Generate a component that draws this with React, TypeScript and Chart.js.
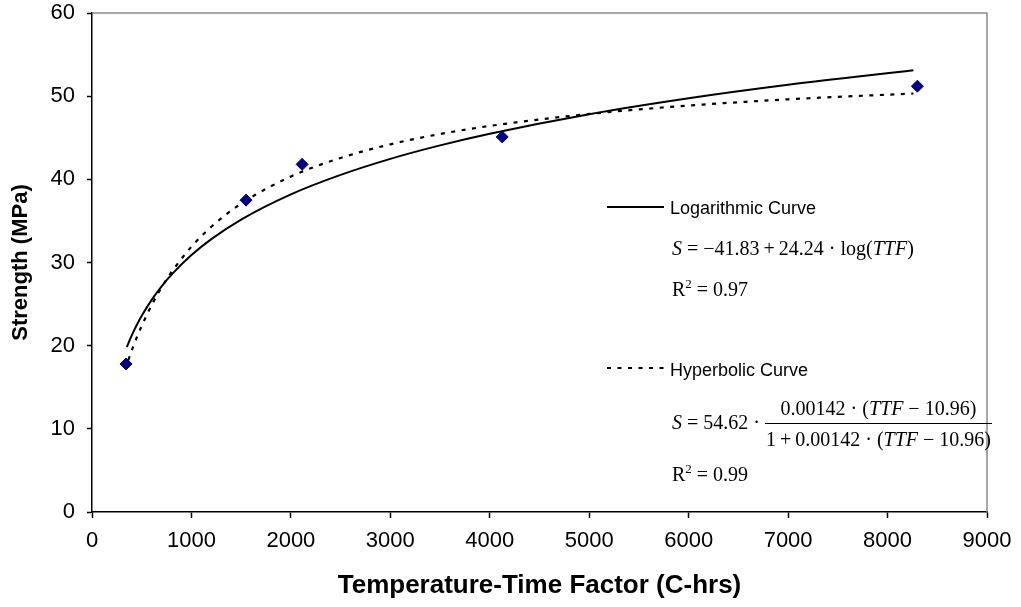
import React, { useEffect, useRef } from "react";
import { Chart, registerables } from "chart.js";

Chart.register(...registerables);

// ---------- data ----------
const xMin = 0;
const xMax = 9000;
const xStep = 1000;
const yMin = 0;
const yMax = 60;
const yStep = 10;

const measuredTTF = [342, 1549, 2113, 4125, 8300];
const measuredStrength = [17.8, 37.5, 41.8, 45.1, 51.2];

const logCurveTTF = [350, 400, 450, 500, 600, 700, 800, 1000, 1200, 1500, 2000, 2500, 3000, 3500, 4000, 5000, 6000, 7000, 8260];
const logCurveStrength = [19.84, 21.24, 22.48, 23.59, 25.51, 27.14, 28.54, 30.89, 32.81, 35.16, 38.19, 40.53, 42.46, 44.08, 45.48, 47.83, 49.75, 51.37, 53.12];

const hypCurveTTF = [365, 400, 450, 500, 600, 700, 800, 1000, 1200, 1500, 2000, 2500, 3000, 3500, 4000, 5000, 6000, 7000, 8260];
const hypCurveStrength = [18.27, 19.44, 20.98, 22.38, 24.88, 27.01, 28.86, 31.9, 34.3, 37.08, 40.34, 42.57, 44.21, 45.45, 46.42, 47.86, 48.87, 49.62, 50.32];

const xAxisTitle = "Temperature-Time Factor (C-hrs)";
const yAxisTitle = "Strength (MPa)";
const logLegend = "Logarithmic Curve";
const hypLegend = "Hyperbolic Curve";
const logR2 = "0.97";
const hypR2 = "0.99";

// ---------- helpers ----------
const SANS = '"Liberation Sans", Arial, sans-serif';
const SERIF = '"Liberation Serif", "Times New Roman", serif';
const MATH = 20;

type Run = { t: string; it?: boolean; sup?: boolean };

function setRunFont(ctx: CanvasRenderingContext2D, r: Run) {
  const size = r.sup ? Math.round(MATH * 0.65) : MATH;
  ctx.font = `${r.it ? "italic " : ""}${size}px ${SERIF}`;
}
function runsWidth(ctx: CanvasRenderingContext2D, runs: Run[]) {
  let w = 0;
  for (const r of runs) {
    setRunFont(ctx, r);
    w += ctx.measureText(r.t).width;
  }
  return w;
}
function drawRuns(ctx: CanvasRenderingContext2D, runs: Run[], x: number, y: number) {
  ctx.textBaseline = "alphabetic";
  ctx.textAlign = "left";
  for (const r of runs) {
    setRunFont(ctx, r);
    ctx.fillText(r.t, x, r.sup ? y - MATH * 0.42 : y);
    x += ctx.measureText(r.t).width;
  }
  return x;
}

const annotationPlugin = {
  id: "annotations",
  beforeDatasetsDraw(chart: any) {
    const { ctx, chartArea: a } = chart;
    ctx.save();
    ctx.strokeStyle = "#8c8c8c";
    ctx.lineWidth = 1.5;
    ctx.beginPath();
    ctx.moveTo(a.left, a.top);
    ctx.lineTo(a.right, a.top);
    ctx.lineTo(a.right, a.bottom);
    ctx.stroke();
    ctx.restore();
  },
  afterDraw(chart: any) {
    const ctx: CanvasRenderingContext2D = chart.ctx;
    ctx.save();
    ctx.fillStyle = "#000";
    ctx.strokeStyle = "#000";

    // logarithmic legend
    ctx.lineWidth = 2;
    ctx.setLineDash([]);
    ctx.beginPath();
    ctx.moveTo(607, 207);
    ctx.lineTo(664, 207);
    ctx.stroke();
    ctx.font = `18px ${SANS}`;
    ctx.textBaseline = "middle";
    ctx.textAlign = "left";
    ctx.fillText(logLegend, 670, 209);

    drawRuns(
      ctx,
      [{ t: "S", it: true }, { t: " = \u221241.83\u2009+\u200924.24 \u00b7 log(" }, { t: "TTF", it: true }, { t: ")" }],
      672,
      255
    );
    drawRuns(ctx, [{ t: "R" }, { t: "2", sup: true }, { t: " = " + logR2 }], 672, 296);

    // hyperbolic legend
    ctx.lineWidth = 2.2;
    ctx.setLineDash([4, 6.5]);
    ctx.beginPath();
    ctx.moveTo(607, 368);
    ctx.lineTo(664, 368);
    ctx.stroke();
    ctx.setLineDash([]);
    ctx.font = `18px ${SANS}`;
    ctx.textBaseline = "middle";
    ctx.fillText(hypLegend, 670, 371);

    const fx = drawRuns(ctx, [{ t: "S", it: true }, { t: " = 54.62 \u00b7 " }], 672, 429);
    const num: Run[] = [{ t: "0.00142 \u00b7 (" }, { t: "TTF", it: true }, { t: " \u2212 10.96)" }];
    const den: Run[] = [{ t: "1\u2009+\u20090.00142 \u00b7 (" }, { t: "TTF", it: true }, { t: " \u2212 10.96)" }];
    const nw = runsWidth(ctx, num);
    const dw = runsWidth(ctx, den);
    const fw = Math.max(nw, dw) + 2;
    drawRuns(ctx, num, fx + (fw - nw) / 2, 415);
    drawRuns(ctx, den, fx + (fw - dw) / 2, 446);
    ctx.lineWidth = 1;
    ctx.beginPath();
    ctx.moveTo(fx, 423.5);
    ctx.lineTo(fx + fw, 423.5);
    ctx.stroke();

    drawRuns(ctx, [{ t: "R" }, { t: "2", sup: true }, { t: " = " + hypR2 }], 672, 481);
    ctx.restore();
  },
};

export default function App() {
  const canvasRef = useRef<HTMLCanvasElement | null>(null);

  useEffect(() => {
    if (!canvasRef.current) return;
    const chart = new Chart(canvasRef.current, {
      type: "scatter",
      data: {
        datasets: [
          {
            label: "Measured",
            data: measuredTTF.map((x, i) => ({ x, y: measuredStrength[i] })),
            pointStyle: "rectRot",
            pointRadius: 6,
            pointBackgroundColor: "#000080",
            pointBorderColor: "#000080",
            showLine: false,
            order: 0,
          },
          {
            label: logLegend,
            type: "line",
            data: logCurveTTF.map((x, i) => ({ x, y: logCurveStrength[i] })),
            borderColor: "#000",
            borderWidth: 2,
            pointRadius: 0,
            cubicInterpolationMode: "monotone",
            fill: false,
            order: 1,
          },
          {
            label: hypLegend,
            type: "line",
            data: hypCurveTTF.map((x, i) => ({ x, y: hypCurveStrength[i] })),
            borderColor: "#000",
            borderWidth: 2.2,
            borderDash: [4, 6.5],
            pointRadius: 0,
            cubicInterpolationMode: "monotone",
            fill: false,
            order: 2,
          },
        ],
      } as any,
      options: {
        animation: false,
        responsive: true,
        maintainAspectRatio: false,
        layout: { padding: { top: 13, right: 34, left: 0, bottom: 0 } },
        plugins: { legend: { display: false }, tooltip: { enabled: false } },
        scales: {
          x: {
            type: "linear",
            min: xMin,
            max: xMax,
            ticks: { stepSize: xStep, color: "#000", font: { family: SANS, size: 22 }, padding: 10, maxRotation: 0, callback: (v: any) => String(v) },
            grid: { drawOnChartArea: false, drawTicks: true, tickLength: 6, tickColor: "#000", tickWidth: 1.5 },
            border: { display: true, color: "#000", width: 1.5 },
            title: { display: true, text: xAxisTitle, color: "#000", font: { family: SANS, size: 26, weight: "bold" }, padding: { top: 0, bottom: 6 } },
            afterFit: (s: any) => { s.height = 95; s.paddingLeft = 0; s.paddingRight = 0; },
          },
          y: {
            type: "linear",
            min: yMin,
            max: yMax,
            ticks: { stepSize: yStep, color: "#000", font: { family: SANS, size: 22 }, padding: 12, callback: (v: any) => String(v) },
            grid: { drawOnChartArea: false, drawTicks: true, tickLength: 5, tickColor: "#000", tickWidth: 1.5 },
            border: { display: true, color: "#000", width: 1.5 },
            title: { display: true, text: yAxisTitle, color: "#000", font: { family: SANS, size: 22, weight: "bold" }, padding: { top: 8, bottom: 0 } },
            afterFit: (s: any) => { s.width = 92; s.paddingTop = 0; s.paddingBottom = 0; },
          },
        },
      } as any,
      plugins: [annotationPlugin],
    });
    return () => chart.destroy();
  }, []);

  return (
    <div style={{ position: "fixed", left: 0, top: 0, width: 1021, height: 607, background: "#fff" }}>
      <canvas ref={canvasRef} />
    </div>
  );
}
